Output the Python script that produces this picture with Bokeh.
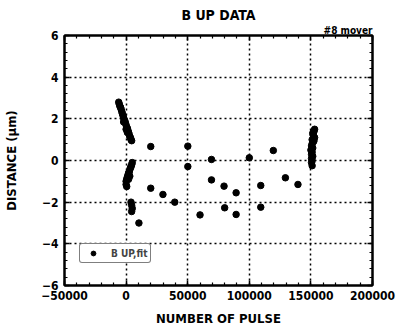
from bokeh.plotting import figure
from bokeh.models import (ColumnDataSource, FixedTicker, LinearAxis, Range1d,
                          Legend, LegendItem, Title, BasicTickFormatter,
                          CustomJSTickFormatter)
from bokeh.embed import file_html
from bokeh.resources import INLINE

# ---- data ----
pulse = [
    # upper cluster near 0
    -6000, -5500, -5000, -4500, -4000, -3500, -3000, -2500, -2000, -1500,
    -1000, -500, 0, 500, 1000, 1500, 2000, 2500, 3000, 3500, 4000, 4500,
    -2000, 0, 1000,
    # lower cluster near 0
    5000, 4500, 4000, 3500, 3000, 2500, 2000, 1500, 1000, 500, 0, 0, 500,
    2000, 3000, 4000, 4500, 5000, 4500, 10400,
    # scattered points
    20000, 20000, 29900, 39500, 50100, 50100, 60000, 69300, 69300, 79500,
    80000, 89300, 89300, 100000, 109300, 109300, 119500, 129300, 139500,
    # cluster near 150000
    153000, 152500, 151500, 152000, 153000, 151000, 152000, 151000, 150500,
    151500, 150000, 151000, 150500, 151500, 150500, 151000, 150500, 151000,
    152000, 152500,
]
distance = [
    2.80, 2.70, 2.60, 2.55, 2.45, 2.35, 2.25, 2.15, 2.05, 1.95,
    1.90, 1.80, 1.70, 1.60, 1.55, 1.45, 1.35, 1.25, 1.15, 1.10, 1.00, 0.95,
    1.85, 1.50, 1.35,
    -0.10, -0.20, -0.30, -0.35, -0.45, -0.55, -0.60, -0.70, -0.80, -0.90, -1.00, -1.15, -1.25,
    -0.90, -0.75, -2.00, -2.15, -2.30, -2.45, -3.00,
    0.67, -1.33, -1.63, -2.00, 0.69, -0.29, -2.61, 0.05, -0.93, -1.23,
    -2.27, -1.55, -2.59, 0.13, -1.20, -2.24, 0.48, -0.83, -1.15,
    1.50, 1.40, 1.30, 1.20, 1.10, 1.00, 0.90, 0.80, 0.70,
    0.60, 0.50, 0.40, 0.30, 0.20, 0.10, 0.00, -0.10, -0.25,
    1.35, 0.95,
]
x_ticks = [-50000, 0, 50000, 100000, 150000, 200000]
y_ticks = [-6, -4, -2, 0, 2, 4, 6]
series_name = "B UP,fit"
title_text = "B UP DATA"
corner_text = "#8 mover"
x_label = "NUMBER OF PULSE"
y_label = "DISTANCE (\u03bcm)"

FONT = "DejaVu Sans Condensed, Liberation Sans, sans-serif"

src = ColumnDataSource(dict(x=pulse, y=distance))

p = figure(width=398, height=330, output_backend="svg", toolbar_location=None,
           x_range=Range1d(-50000, 200000), y_range=Range1d(-6, 6),
           min_border_left=62, min_border_right=26, min_border_top=35,
           min_border_bottom=45, background_fill_color="white",
           border_fill_color="white")

p.outline_line_color = "black"
p.outline_line_width = 2

r = p.scatter("x", "y", source=src, size=6.5, color="black")

def style_axis(ax):
    ax.axis_line_color = "black"
    ax.axis_line_width = 2
    ax.major_tick_in = 5
    ax.major_tick_out = 0
    ax.minor_tick_in = 3
    ax.minor_tick_out = 0
    ax.major_tick_line_width = 1.5
    ax.minor_tick_line_width = 1.2
    ax.major_tick_line_color = "black"
    ax.minor_tick_line_color = "black"
    ax.major_label_text_font = FONT
    ax.major_label_text_font_style = "bold"
    ax.major_label_text_font_size = "12px"
    ax.major_label_text_color = "black"
    ax.axis_label_text_font = FONT
    ax.axis_label_text_font_style = "bold"
    ax.axis_label_text_font_size = "13px"
    ax.axis_label_text_color = "black"

xt = FixedTicker(ticks=x_ticks, minor_ticks=list(range(-50000, 200001, 10000)))
yt = FixedTicker(ticks=y_ticks, minor_ticks=[v / 10 for v in range(-60, 61, 4)])

for ax in p.xaxis:
    ax.ticker = xt
    ax.formatter = BasicTickFormatter(use_scientific=False)
    style_axis(ax)
    ax.axis_label = x_label
    ax.major_label_standoff = 5
    ax.axis_label_standoff = 8
for ax in p.yaxis:
    ax.ticker = yt
    style_axis(ax)
    ax.axis_label = y_label
    ax.major_label_standoff = 6
    ax.axis_label_standoff = 20

blank = CustomJSTickFormatter(code="return ''")
top_ax = LinearAxis(ticker=xt, formatter=blank, major_label_standoff=0)
style_axis(top_ax)
right_ax = LinearAxis(ticker=yt, formatter=blank)
style_axis(right_ax)
p.add_layout(top_ax, "above")
p.add_layout(right_ax, "right")

p.xgrid.ticker = FixedTicker(ticks=[0, 50000, 100000, 150000])
p.ygrid.ticker = FixedTicker(ticks=[-4, -2, 0, 2, 4])
for g in (p.xgrid[0], p.ygrid[0]):
    g.grid_line_color = "black"
    g.grid_line_dash = "2 3"
    g.grid_line_width = 1.5

legend = Legend(items=[LegendItem(label=series_name, renderers=[r])],
                location=(15, 22), border_line_color="black",
                border_line_width=1.5, background_fill_color="white",
                background_fill_alpha=1, label_text_font=FONT,
                label_text_font_style="bold", label_text_font_size="10px",
                padding=3, margin=0, glyph_width=20, glyph_height=12,
                label_standoff=8, border_radius=3, label_height=12,
                spacing=0)
p.add_layout(legend, "center")

p.title = Title(text=title_text, align="center", text_font=FONT,
                text_font_style="bold", text_font_size="14px",
                text_color="black", standoff=0)
p.add_layout(Title(text=corner_text, align="right", text_font=FONT,
                   text_font_style="bold", text_font_size="10px",
                   text_color="black", standoff=0), "above")

open("out.html", "w").write(file_html(p, INLINE))
